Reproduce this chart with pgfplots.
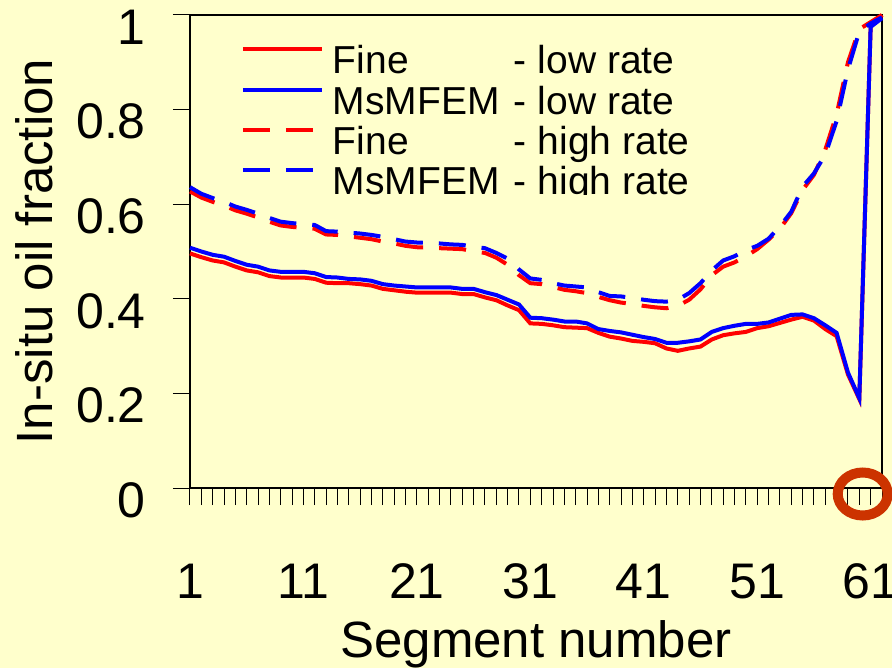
\documentclass[border=0pt]{standalone}
\usepackage{pgfplots}
\pgfplotsset{compat=1.18}
\usepackage{fontspec}
\setmainfont{Liberation Sans}
\definecolor{bg}{HTML}{FFFFCC}
\definecolor{circ}{HTML}{CC3300}
\definecolor{myred}{HTML}{FF0000}
\definecolor{myblue}{HTML}{0000FF}
\pgfplotstableread{
s fl ml fh mh
1 0.496 0.508 0.627 0.636
2 0.488 0.500 0.614 0.622
3 0.481 0.493 0.605 0.613
4 0.477 0.489 0.597 0.605
5 0.468 0.480 0.587 0.595
6 0.460 0.472 0.580 0.588
7 0.456 0.468 0.572 0.580
8 0.448 0.460 0.563 0.571
9 0.445 0.457 0.555 0.563
10 0.445 0.457 0.552 0.560
11 0.445 0.457 0.550 0.558
12 0.442 0.454 0.548 0.556
13 0.434 0.446 0.536 0.543
14 0.433 0.445 0.535 0.542
15 0.433 0.442 0.532 0.540
16 0.431 0.441 0.529 0.538
17 0.428 0.438 0.526 0.535
18 0.421 0.431 0.521 0.531
19 0.418 0.428 0.517 0.526
20 0.415 0.426 0.512 0.521
21 0.413 0.424 0.509 0.519
22 0.413 0.424 0.508 0.518
23 0.413 0.424 0.507 0.517
24 0.413 0.424 0.506 0.515
25 0.410 0.421 0.505 0.514
26 0.410 0.421 0.500 0.510
27 0.403 0.414 0.497 0.507
28 0.397 0.408 0.487 0.497
29 0.386 0.398 0.472 0.485
30 0.376 0.388 0.450 0.462
31 0.348 0.360 0.433 0.443
32 0.347 0.359 0.431 0.440
33 0.344 0.356 0.425 0.433
34 0.340 0.352 0.419 0.428
35 0.339 0.352 0.416 0.426
36 0.338 0.348 0.412 0.424
37 0.328 0.336 0.404 0.414
38 0.320 0.332 0.397 0.406
39 0.316 0.329 0.392 0.405
40 0.311 0.324 0.389 0.402
41 0.309 0.319 0.385 0.398
42 0.306 0.315 0.382 0.395
43 0.295 0.307 0.380 0.394
44 0.290 0.307 0.385 0.398
45 0.295 0.310 0.398 0.412
46 0.299 0.314 0.420 0.433
47 0.314 0.330 0.450 0.460
48 0.323 0.338 0.468 0.481
49 0.327 0.343 0.477 0.490
50 0.330 0.347 0.490 0.503
51 0.338 0.347 0.505 0.512
52 0.342 0.350 0.525 0.527
53 0.349 0.358 0.548 0.553
54 0.356 0.366 0.581 0.584
55 0.362 0.367 0.630 0.637
56 0.354 0.359 0.662 0.665
57 0.336 0.344 0.715 0.705
58 0.321 0.328 0.790 0.776
59 0.240 0.244 0.900 0.885
60 0.188 0.190 0.970 0.965
61 0.975 0.975 0.985 0.982
62 1.000 0.993 1.000 0.995
}\datatable
\begin{document}
\begin{tikzpicture}
\path[use as bounding box, fill=bg] (-190bp,-180bp) rectangle (702bp,488bp);
\begin{axis}[
  at={(0,0)}, anchor=south west,
  scale only axis, width=692bp, height=473bp,
  xmin=1, xmax=62, ymin=0, ymax=1,
  clip=false,
  axis background/.style={fill=bg},
  axis line style={black, line width=1.2bp},
  xtick={1,11,21,31,41,51,61},
  minor xtick={1,...,62},
  ytick={0,0.2,0.4,0.6,0.8,1},
  xtick pos=left, ytick pos=left,
  tick align=outside,
  major tick length=17bp, minor tick length=17bp,
  every tick/.style={black, line width=1bp},
  /pgf/number format/assume math mode=true,
  tick label style={font=\fontsize{50bp}{50bp}\selectfont, inner sep=0pt},
  yticklabel style={anchor=east, xshift=-27bp, yshift=-12bp},
  xticklabel style={anchor=base, yshift=-93bp},
  xlabel={Segment number},
  ylabel={In-situ oil fraction},
  label style={font=\fontsize{51bp}{51bp}\selectfont, inner sep=0pt},
  xlabel style={at={(axis description cs:0.5,-0.3573)}, anchor=base},
  ylabel style={at={(axis description cs:-0.198,0.5)}, anchor=base},
  legend cell align=left,
  legend style={at={(axis description cs:0.0737,0.9366)}, anchor=north west,
    draw=none, fill=none, inner sep=0pt, outer sep=0pt,
    row sep=3.3bp, column sep=9bp,
    font=\fontsize{39bp}{39bp}\selectfont,
    nodes={inner sep=0pt, text height=29bp, text depth=8bp}},
  legend image code/.code={\draw[#1] (0bp,14bp) -- (79bp,14bp);},
]
\addplot[myred, line width=4bp] table[x=s, y=fl] {\datatable};
\addlegendentry{\makebox[181bp][l]{Fine}- low rate}
\addplot[myblue, line width=4bp] table[x=s, y=ml] {\datatable};
\addlegendentry{\makebox[181bp][l]{MsMFEM}- low rate}
\addplot[myred, line width=4bp, dash pattern=on 27bp off 16bp] table[x=s, y=fh] {\datatable};
\addlegendentry{\makebox[181bp][l]{Fine}- high rate}
\addplot[myblue, line width=4bp, dash pattern=on 27bp off 16bp] table[x=s, y=mh] {\datatable};
\addlegendentry{\makebox[181bp][l]{MsMFEM}- high rate}
\coordinate (cc) at (axis cs:60.3,-0.0127);
\coordinate (m1) at (axis cs:12.9,0.5835);
\coordinate (m2) at (axis cs:46.5,0.6184);
\end{axis}
\fill[bg] (m1) rectangle (m2);
\draw[circ, line width=10bp] (cc) ellipse [x radius=25bp, y radius=21.5bp];
\end{tikzpicture}
\end{document}
